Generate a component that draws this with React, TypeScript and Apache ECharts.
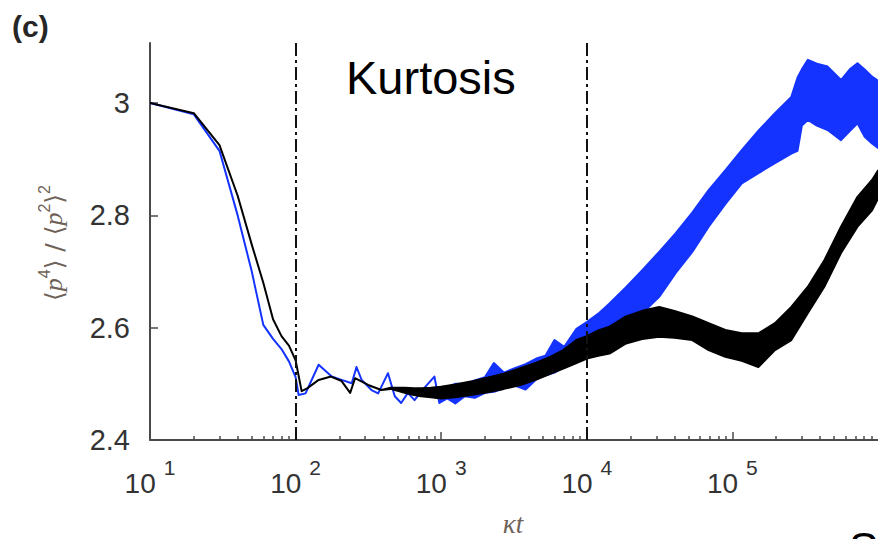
import React, { useEffect, useRef } from "react";
import * as echarts from "echarts";

// ---- data ----
const blueKt = [10, 20, 30, 40, 50, 60, 70, 80, 90, 100, 105, 117, 144, 177, 207, 243, 262, 284, 332, 369, 431, 480, 531, 590, 656, 750, 898, 971, 1100, 1250, 1450, 1700, 2000, 2300, 2700, 3200, 3800, 4500, 5200, 6000, 7000, 8490, 10000, 12000, 14320, 18600, 24150, 31400, 40700, 53000, 68700, 89300, 116000, 150000, 196000, 254000, 280000, 300000, 330000, 380000, 451000, 557000, 640000, 723000, 810000, 910000, 1000000];
const blueLow = [3.0, 2.98, 2.915, 2.8, 2.7, 2.605, 2.58, 2.562, 2.54, 2.512, 2.48, 2.483, 2.534, 2.513, 2.507, 2.501, 2.53, 2.507, 2.489, 2.483, 2.519, 2.478, 2.466, 2.484, 2.471, 2.49, 2.513, 2.466, 2.474, 2.465, 2.478, 2.475, 2.484, 2.486, 2.492, 2.497, 2.49, 2.508, 2.515, 2.52, 2.53, 2.545, 2.555, 2.565, 2.578, 2.6, 2.626, 2.655, 2.697, 2.735, 2.78, 2.82, 2.857, 2.875, 2.893, 2.91, 2.915, 2.96, 2.97, 2.96, 2.952, 2.934, 2.95, 2.964, 2.94, 2.928, 2.92];
const blueHigh = [3.0, 2.98, 2.915, 2.8, 2.7, 2.605, 2.58, 2.562, 2.54, 2.512, 2.48, 2.483, 2.534, 2.513, 2.507, 2.501, 2.53, 2.507, 2.489, 2.483, 2.519, 2.478, 2.466, 2.484, 2.471, 2.49, 2.513, 2.466, 2.495, 2.5, 2.5, 2.506, 2.512, 2.537, 2.52, 2.528, 2.535, 2.545, 2.55, 2.578, 2.566, 2.598, 2.61, 2.625, 2.643, 2.672, 2.703, 2.735, 2.768, 2.805, 2.845, 2.88, 2.916, 2.95, 2.982, 3.011, 3.045, 3.06, 3.077, 3.07, 3.065, 3.041, 3.06, 3.071, 3.06, 3.047, 3.04];

const blackKt = [10, 20, 30, 40, 50, 60, 70, 80, 90, 100, 110, 120, 144, 175, 207, 237, 256, 315, 388, 450, 561, 650, 728, 850, 995, 1250, 1592, 2000, 2690, 3500, 4540, 5600, 6890, 8490, 10000, 12000, 14320, 18600, 24000, 31400, 40000, 53000, 68700, 89300, 116000, 150700, 196000, 254000, 330000, 428000, 557000, 723000, 910000, 1000000];
const blackLow = [3.0, 2.982, 2.925, 2.835, 2.748, 2.68, 2.615, 2.585, 2.568, 2.542, 2.487, 2.492, 2.507, 2.513, 2.505, 2.484, 2.51, 2.498, 2.489, 2.491, 2.484, 2.48, 2.478, 2.476, 2.474, 2.476, 2.48, 2.484, 2.491, 2.498, 2.508, 2.518, 2.527, 2.537, 2.545, 2.55, 2.554, 2.572, 2.58, 2.584, 2.582, 2.578, 2.56, 2.548, 2.541, 2.53, 2.56, 2.578, 2.626, 2.673, 2.733, 2.78, 2.809, 2.83];
const blackHigh = [3.0, 2.982, 2.925, 2.835, 2.748, 2.68, 2.615, 2.585, 2.568, 2.542, 2.487, 2.492, 2.507, 2.513, 2.505, 2.484, 2.51, 2.498, 2.489, 2.493, 2.493, 2.492, 2.492, 2.493, 2.495, 2.499, 2.504, 2.51, 2.518, 2.528, 2.538, 2.548, 2.56, 2.578, 2.585, 2.595, 2.602, 2.62, 2.63, 2.637, 2.63, 2.62, 2.608, 2.596, 2.59, 2.59, 2.608, 2.637, 2.673, 2.72, 2.78, 2.833, 2.863, 2.88];

const yTicks = [2.4, 2.6, 2.8, 3.0];
const minorTickKt = [
  20, 30, 40, 50, 60, 70, 80, 90,
  200, 300, 400, 500, 600, 700, 800, 900,
  2000, 3000, 4000, 5000, 6000, 7000, 8000, 9000,
  20000, 30000, 40000, 50000, 60000, 70000, 80000, 90000,
  200000, 300000, 400000, 500000, 600000, 700000, 800000, 900000,
];
const markerKt = [100, 10000];

const BLUE = "#1433ff";
const BLACK = "#000000";
const AXIS = "#4a4a4a";
const LABEL = "#333333";
const SOFT = "#6e6258";

function bandSeries(name: string, kt: number[], low: number[], high: number[], color: string, z: number, marks?: number[]) {
  const s: any = {
    type: "custom",
    name,
    xAxisIndex: 0,
    yAxisIndex: 0,
    clip: true,
    z,
    encode: { x: 0, y: [1, 2] },
    data: kt.map((k, i) => [k, low[i], high[i]]),
    renderItem: (params: any, api: any) => {
      if (params.dataIndex !== 0) return null;
      const n = kt.length;
      const top: number[][] = [];
      const bottom: number[][] = [];
      for (let j = 0; j < n; j++) {
        const x = api.value(0, j);
        top.push(api.coord([x, api.value(2, j)]));
        bottom.push(api.coord([x, api.value(1, j)]));
      }
      const points = top.concat(bottom.reverse());
      return {
        type: "polygon",
        shape: { points },
        style: { fill: color, stroke: color, lineWidth: 2, lineJoin: "round" },
      };
    },
  };
  if (marks) {
    s.markLine = {
      silent: true,
      z: 10,
      symbol: ["none", "none"],
      label: { show: false },
      lineStyle: { color: "#111", width: 2, type: [13, 4, 3, 4], opacity: 1 },
      data: marks.map((m) => ({ xAxis: m })),
    };
  }
  return s;
}

export default function App() {
  const ref = useRef<HTMLDivElement>(null);
  useEffect(() => {
    if (!ref.current) return;
    const chart = echarts.init(ref.current, undefined, { renderer: "svg" });
    const option: any = {
      animation: false,
      backgroundColor: "#ffffff",
      grid: { left: 150, top: 43, width: 734, height: 397 },
      xAxis: [
        {
          type: "log",
          logBase: 10,
          min: 10,
          max: 1000000,
          axisLine: { show: true, lineStyle: { color: AXIS, width: 2 } },
          axisTick: { show: true, inside: true, length: 8, lineStyle: { color: AXIS, width: 1.5 } },
          splitLine: { show: false },
          axisLabel: {
            margin: 27,
            showMaxLabel: false,
            formatter: (v: number) => (v >= 999999 ? "" : `{b|10}{s|${Math.round(Math.log10(v))}}`),
            rich: {
              b: { fontSize: 28, fontFamily: "Liberation Sans", color: LABEL, verticalAlign: "bottom", lineHeight: 30 },
              s: { fontSize: 21, fontFamily: "Liberation Sans", color: LABEL, verticalAlign: "bottom", lineHeight: 21, padding: [0, 0, 19, 8] },
            },
          },
        },
        {
          type: "value",
          min: 1,
          max: 6,
          position: "bottom",
          axisLine: { show: false },
          axisLabel: { show: false },
          splitLine: { show: false },
          axisTick: {
            show: true,
            inside: true,
            length: 4,
            customValues: minorTickKt.map((k) => Math.log10(k)),
            lineStyle: { color: AXIS, width: 1.5 },
          },
        },
      ],
      yAxis: {
        type: "value",
        min: 2.4,
        max: 3.107,
        axisLine: { show: true, lineStyle: { color: AXIS, width: 2 } },
        axisTick: { show: true, inside: true, length: 8, customValues: yTicks, lineStyle: { color: AXIS, width: 1.5 } },
        splitLine: { show: false },
        axisLabel: {
          customValues: yTicks,
          margin: 20,
          fontSize: 29,
          fontFamily: "Liberation Sans",
          color: LABEL,
          formatter: (v: number) => (Math.abs(v - 3) < 1e-9 ? "3" : v.toFixed(1)),
        },
      },
      graphic: [
        { type: "text", left: 12, top: 11, z: 100, style: { text: "(c)", fontSize: 30, fontWeight: "bold", fontFamily: "Liberation Sans", fill: "#262626" } },
        { type: "text", left: 346, top: 54, z: 100, style: { text: "Kurtosis", fontSize: 47, fontFamily: "Liberation Sans", fill: "#000" } },
        {
          type: "text",
          x: 53,
          y: 243,
          rotation: Math.PI / 2,
          z: 100,
          style: {
            text: "{n|⟨}{i|p}{s|4}{n|⟩ / ⟨}{i|p}{s|2}{n|⟩}{s|2}",
            align: "center",
            verticalAlign: "middle",
            rich: {
              n: { fontSize: 25, fontFamily: "DejaVu Sans", fill: SOFT, verticalAlign: "bottom", lineHeight: 27 },
              i: { fontSize: 26, fontFamily: "Liberation Serif", fontStyle: "italic", fill: SOFT, verticalAlign: "bottom", lineHeight: 27 },
              s: { fontSize: 16, fontFamily: "Liberation Sans", fill: SOFT, verticalAlign: "bottom", lineHeight: 16, padding: [0, 0, 14, 0] },
            },
          },
        },
        { type: "text", x: 513, y: 524, z: 100, style: { text: "κt", align: "center", verticalAlign: "middle", fontSize: 27, fontStyle: "italic", fontFamily: "Liberation Serif", fill: SOFT } },
        { type: "text", left: 849, top: 526, z: 100, style: { text: "S", fontSize: 44, fontFamily: "Liberation Sans", fill: "#000" } },
      ],
      series: [
        bandSeries("blue", blueKt, blueLow, blueHigh, BLUE, 2),
        bandSeries("black", blackKt, blackLow, blackHigh, BLACK, 3, markerKt),
      ],
    };
    chart.setOption(option);
    return () => chart.dispose();
  }, []);
  return (
    <div
      ref={ref}
      style={{ position: "absolute", left: 0, top: 0, width: 878, height: 539, background: "#fff" }}
    />
  );
}
